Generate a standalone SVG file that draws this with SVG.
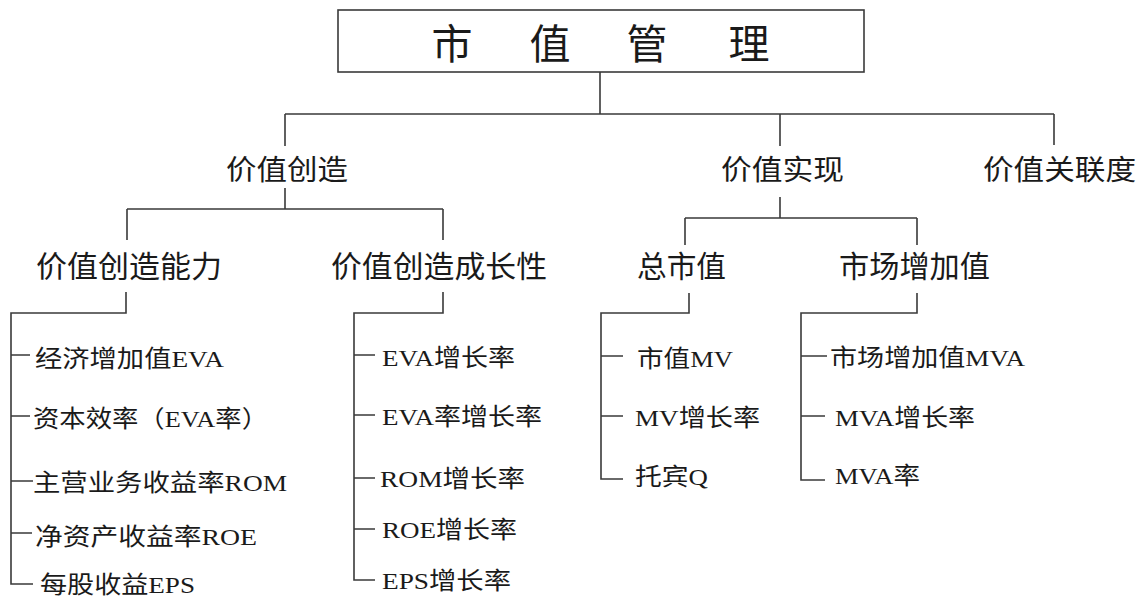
<svg xmlns="http://www.w3.org/2000/svg" width="1140" height="599" viewBox="0 0 1140 599">
<style>
.ln{stroke:#3a3a3a;stroke-width:1.6;fill:none}
.t{font-family:"Noto Sans CJK SC","Liberation Sans",sans-serif;fill:#1a1a1a}
.h2{font-size:28px}
.h3{font-size:30px}
.it{font-family:"Liberation Serif","Noto Sans CJK SC",serif;font-size:24px;fill:#1a1a1a}
</style>
<rect width="1140" height="599" fill="#ffffff"/>
<g id="connectors">
<path class="ln" d="M600 72V114M285 114H1054M285 114V146M780 114V146M1054 114V145"/>
<path class="ln" d="M285 188V209M127 209H443M127 209V240M443 209V240"/>
<path class="ln" d="M780 197V218M685 218H917M685 218V245M917 218V245"/>
<path class="ln" d="M126 292V313H11V584H33M11 355H30M11 416H30M11 481H33M11 533H32"/>
<path class="ln" d="M443 292V313H354V580H375M354 355H375M354 415H375M354 478H375M354 529H375"/>
<path class="ln" d="M689 293V313H601V479H623M601 356H623M601 416H623"/>
<path class="ln" d="M917 293V313H801V480H825M801 356H827M801 416H825"/>
</g>
<g id="root">
<rect x="338" y="10" width="526" height="62" fill="#ffffff" stroke="#3a3a3a" stroke-width="1.6"/>
<text class="t" font-size="41" x="452 550 647 749" y="59" text-anchor="middle">市值管理</text>
</g>
<g id="n-create"><text class="t h2" x="226" y="180" textLength="122" lengthAdjust="spacingAndGlyphs">价值创造</text></g>
<g id="n-realize"><text class="t h2" x="721" y="180" textLength="123" lengthAdjust="spacingAndGlyphs">价值实现</text></g>
<g id="n-relate"><text class="t h2" x="983" y="180" textLength="153" lengthAdjust="spacingAndGlyphs">价值关联度</text></g>
<g id="n-ability"><text class="t h3" x="36" y="277" textLength="186" lengthAdjust="spacingAndGlyphs">价值创造能力</text></g>
<g id="n-growth"><text class="t h3" x="331" y="277" textLength="216" lengthAdjust="spacingAndGlyphs">价值创造成长性</text></g>
<g id="n-mv"><text class="t h3" x="637" y="277" textLength="89" lengthAdjust="spacingAndGlyphs">总市值</text></g>
<g id="n-mva"><text class="t h3" x="839" y="277" textLength="151" lengthAdjust="spacingAndGlyphs">市场增加值</text></g>
<g id="l1"><text class="it" x="35" y="367" textLength="189" lengthAdjust="spacingAndGlyphs">经济增加值EVA</text></g>
<g id="l2"><text class="it" x="33" y="427" textLength="235" lengthAdjust="spacingAndGlyphs">资本效率（EVA率）</text></g>
<g id="l3"><text class="it" x="33" y="491" textLength="254" lengthAdjust="spacingAndGlyphs">主营业务收益率ROM</text></g>
<g id="l4"><text class="it" x="35" y="545" textLength="222" lengthAdjust="spacingAndGlyphs">净资产收益率ROE</text></g>
<g id="l5"><text class="it" x="40" y="593" textLength="155" lengthAdjust="spacingAndGlyphs">每股收益EPS</text></g>
<g id="m1"><text class="it" x="382" y="366" textLength="133" lengthAdjust="spacingAndGlyphs">EVA增长率</text></g>
<g id="m2"><text class="it" x="382" y="425" textLength="160" lengthAdjust="spacingAndGlyphs">EVA率增长率</text></g>
<g id="m3"><text class="it" x="380" y="487" textLength="145" lengthAdjust="spacingAndGlyphs">ROM增长率</text></g>
<g id="m4"><text class="it" x="382" y="538" textLength="135" lengthAdjust="spacingAndGlyphs">ROE增长率</text></g>
<g id="m5"><text class="it" x="382" y="589" textLength="129" lengthAdjust="spacingAndGlyphs">EPS增长率</text></g>
<g id="r1"><text class="it" x="637" y="367" textLength="96" lengthAdjust="spacingAndGlyphs">市值MV</text></g>
<g id="r2"><text class="it" x="635" y="426" textLength="125" lengthAdjust="spacingAndGlyphs">MV增长率</text></g>
<g id="r3"><text class="it" x="635" y="485" textLength="73" lengthAdjust="spacingAndGlyphs">托宾Q</text></g>
<g id="s1"><text class="it" x="830" y="366" textLength="195" lengthAdjust="spacingAndGlyphs">市场增加值MVA</text></g>
<g id="s2"><text class="it" x="835" y="426" textLength="140" lengthAdjust="spacingAndGlyphs">MVA增长率</text></g>
<g id="s3"><text class="it" x="835" y="484" textLength="85" lengthAdjust="spacingAndGlyphs">MVA率</text></g>
</svg>
